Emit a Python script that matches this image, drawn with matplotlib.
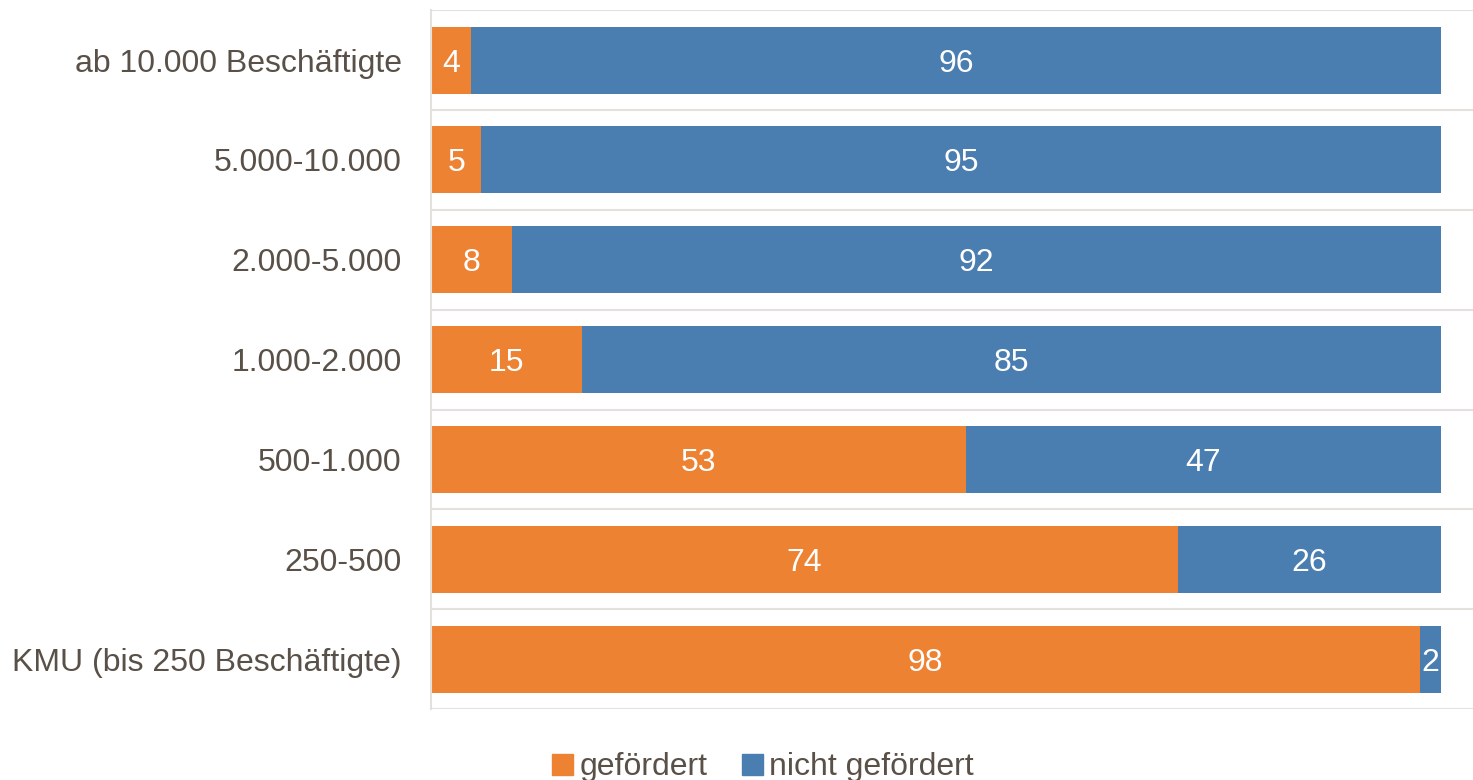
import numpy as np
import matplotlib.pyplot as plt
from matplotlib.patches import Patch

plt.rcParams["font.family"] = ["Liberation Sans", "DejaVu Sans"]

# ── Data ──────────────────────────────────────────────────────
CATEGORIES = [
    "KMU (bis 250 Beschäftigte)",
    "250-500",
    "500-1.000",
    "1.000-2.000",
    "2.000-5.000",
    "5.000-10.000",
    "ab 10.000 Beschäftigte",
]
GEFOERDERT = [98, 74, 53, 15, 8, 5, 4]
NICHT_GEFOERDERT = [2, 26, 47, 85, 92, 95, 96]

ORANGE = "#EE8233"
BLUE = "#4A7EB1"
TEXT = "#595048"
GRID = "#E4E1DD"
FS = 23

fig = plt.figure(figsize=(14.73, 7.80), dpi=100)
ax = fig.add_axes([0.2926, 0.091, 0.7074, 0.896])

y = np.arange(len(CATEGORIES))
h = 0.67
b1 = ax.barh(y, GEFOERDERT, height=h, color=ORANGE, label="gefördert")
b2 = ax.barh(y, NICHT_GEFOERDERT, height=h, left=GEFOERDERT, color=BLUE,
             label="nicht gefördert")

for bars, vals in [(b1, GEFOERDERT), (b2, NICHT_GEFOERDERT)]:
    texts = ax.bar_label(bars, labels=[str(v) for v in vals], label_type="center",
                         color="white", fontsize=FS)
    for t in texts:
        t.set_va("center_baseline")

ax.set_xlim(0, 103.2)
ax.set_ylim(-0.5, len(CATEGORIES) - 0.5)
ax.set_yticks(y)
ax.set_yticklabels(CATEGORIES, fontsize=FS, color=TEXT)
ax.tick_params(axis="y", length=0, pad=21)
ax.set_xticks([])

# category separators
for b in np.arange(-0.5, len(CATEGORIES), 1.0):
    ax.axhline(b, color=GRID, lw=1.5, zorder=0)

for side in ["top", "right", "bottom"]:
    ax.spines[side].set_visible(False)
ax.spines["left"].set_color(GRID)
ax.spines["left"].set_linewidth(1.5)

handles = [Patch(color=ORANGE, label="gefördert"),
           Patch(color=BLUE, label="nicht gefördert")]
leg = fig.legend(handles=handles, loc="lower center", ncol=2, frameon=False,
                 bbox_to_anchor=(0.518, -0.04), fontsize=FS, handlelength=0.65,
                 handleheight=0.65, handletextpad=0.2, columnspacing=1.1)
for t in leg.get_texts():
    t.set_color(TEXT)

fig.savefig("out.png", dpi=100)
